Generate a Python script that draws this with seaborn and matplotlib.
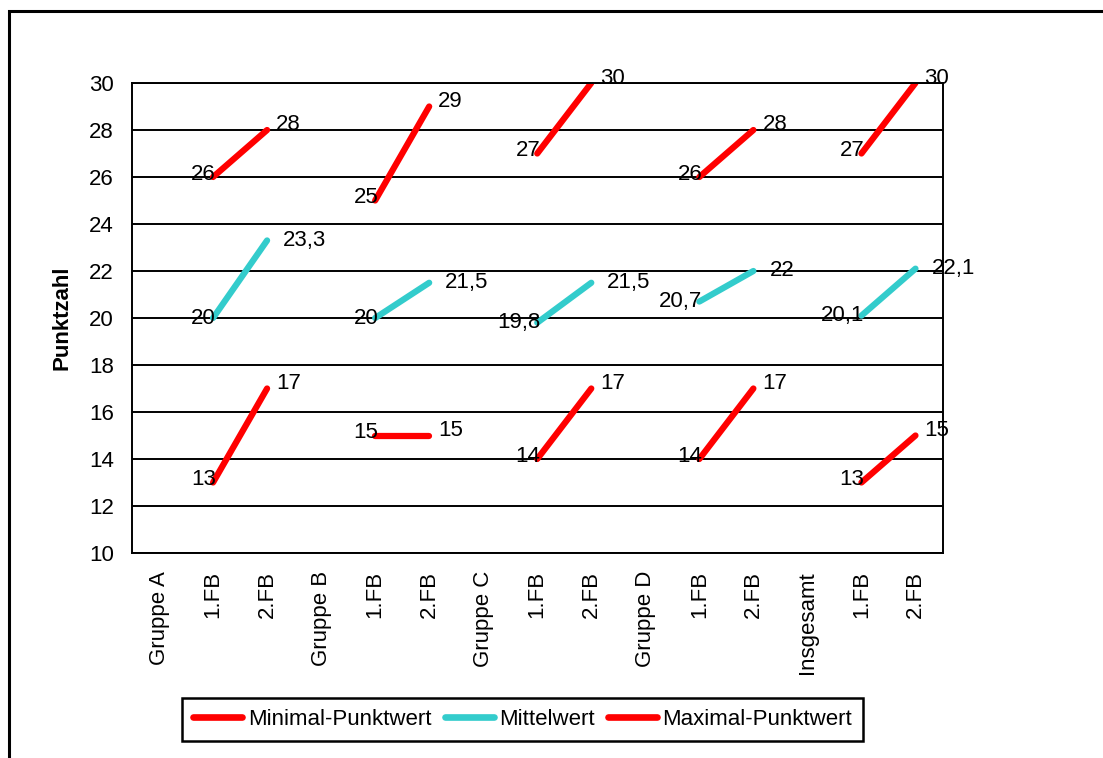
import matplotlib
matplotlib.use("Agg")
import matplotlib.pyplot as plt
from matplotlib.lines import Line2D
from matplotlib.patches import Rectangle
import numpy as np
import pandas as pd
import seaborn as sns

# Category axis: group headers followed by the two surveys (FB = Fragebogen)
categories = ["Gruppe A", "1.FB", "2.FB", "Gruppe B", "1.FB", "2.FB",
              "Gruppe C", "1.FB", "2.FB", "Gruppe D", "1.FB", "2.FB",
              "Insgesamt", "1.FB", "2.FB"]

# Scores per series; header positions carry no value
minimal = [None, 13, 17, None, 15, 15, None, 14, 17, None, 14, 17, None, 13, 15]
mittel = [None, 20, 23.3, None, 20, 21.5, None, 19.8, 21.5, None, 20.7, 22, None, 20.1, 22.1]
maximal = [None, 26, 28, None, 25, 29, None, 27, 30, None, 26, 28, None, 27, 30]

series_names = ["Minimal-Punktwert", "Mittelwert", "Maximal-Punktwert"]
series_values = [minimal, mittel, maximal]
colors = {"Minimal-Punktwert": "#FF0000", "Mittelwert": "#33CCCC",
          "Maximal-Punktwert": "#FF0000"}

yticks = [10, 12, 14, 16, 18, 20, 22, 24, 26, 28, 30]

# Long-form table: each group block is its own line segment
rows = []
for name, vals in zip(series_names, series_values):
    seg = 0
    for i, v in enumerate(vals):
        if v is None:
            seg += 1
            continue
        rows.append({"pos": i, "value": v, "series": name, "segment": f"{name}-{seg}"})
df = pd.DataFrame(rows)

sns.set_style("white")
plt.rcParams["font.family"] = ["Liberation Sans", "DejaVu Sans"]
plt.rcParams["text.color"] = "black"
plt.rcParams["axes.labelcolor"] = "black"
plt.rcParams["xtick.color"] = "black"
plt.rcParams["ytick.color"] = "black"

FS = 16
PX = 0.72  # points per pixel at 100 dpi

fig = plt.figure(figsize=(11.03, 7.58), dpi=100)
ax = fig.add_axes([132 / 1103, 1 - 553 / 758, (942.5 - 132) / 1103, (553 - 83) / 758])

sns.lineplot(data=df, x="pos", y="value", hue="series", units="segment",
             estimator=None, sort=False, palette=colors, linewidth=4.5,
             legend=False, ax=ax, solid_capstyle="round")

# Value labels: first point to the left, second point to the right
label_offsets = {
    "Minimal-Punktwert": ((3, 3), (9, 5)),
    "Mittelwert": ((3, 0), (16, 0)),
    "Maximal-Punktwert": ((3, 3), (9, 5)),
}
for name, vals in zip(series_names, series_values):
    left_off, right_off = label_offsets[name]
    for i, v in enumerate(vals):
        if v is None:
            continue
        txt = f"{v:g}".replace(".", ",")
        first = i > 0 and vals[i - 1] is None
        if first:
            ax.annotate(txt, (i, v), xytext=(left_off[0] * PX, left_off[1] * PX),
                        textcoords="offset points", ha="right", va="center",
                        fontsize=FS, color="black", zorder=5)
        else:
            ax.annotate(txt, (i, v), xytext=(right_off[0] * PX, right_off[1] * PX),
                        textcoords="offset points", ha="left", va="center",
                        fontsize=FS, color="black", zorder=5)

ax.set_xlim(-0.5, len(categories) - 0.5)
ax.set_ylim(10, 30)
ax.set_yticks(yticks)
ax.set_yticklabels([str(t) for t in yticks], fontsize=FS)
ax.tick_params(axis="y", length=0, pad=13)
ax.yaxis.grid(True, color="black", linewidth=1.4)
ax.set_axisbelow(True)

# Tick marks between categories, labels centred on categories
ax.set_xticks(np.arange(-0.5, len(categories), 1.0))
ax.set_xticklabels([])
ax.tick_params(axis="x", which="major", length=6, width=1.4, color="black", direction="out")
ax.set_xticks(np.arange(len(categories)), minor=True)
ax.set_xticklabels(categories, minor=True, rotation=90, fontsize=FS)
ax.tick_params(axis="x", which="minor", length=0, pad=13)

ax.set_xlabel("")
ax.set_ylabel("Punktzahl", fontsize=FS, fontweight="bold")
ax.yaxis.set_label_coords(-0.0728, 0.5)

for sp in ax.spines.values():
    sp.set_visible(True)
    sp.set_color("black")
    sp.set_linewidth(1.4)

handles = [Line2D([0], [0], color=colors[n], linewidth=4.8, solid_capstyle="round")
           for n in series_names]
leg = fig.legend(handles, series_names, loc="center", bbox_to_anchor=(0.474, 0.051),
                 ncol=3, fontsize=FS, frameon=True, fancybox=False, edgecolor="black",
                 handlelength=2.2, handletextpad=0.25, columnspacing=0.6,
                 borderpad=0.5, borderaxespad=0)
leg.get_frame().set_linewidth(1.8)
leg.get_frame().set_alpha(1)
for t in leg.get_texts():
    t.set_color("black")

# Outer chart frame
fig.patches.append(Rectangle((8.6 / 1103, -0.2), 1.2, 1 - 11 / 758 + 0.2,
                             transform=fig.transFigure, fill=False,
                             edgecolor="black", linewidth=2.2))

fig.savefig("out.png", dpi=100)
